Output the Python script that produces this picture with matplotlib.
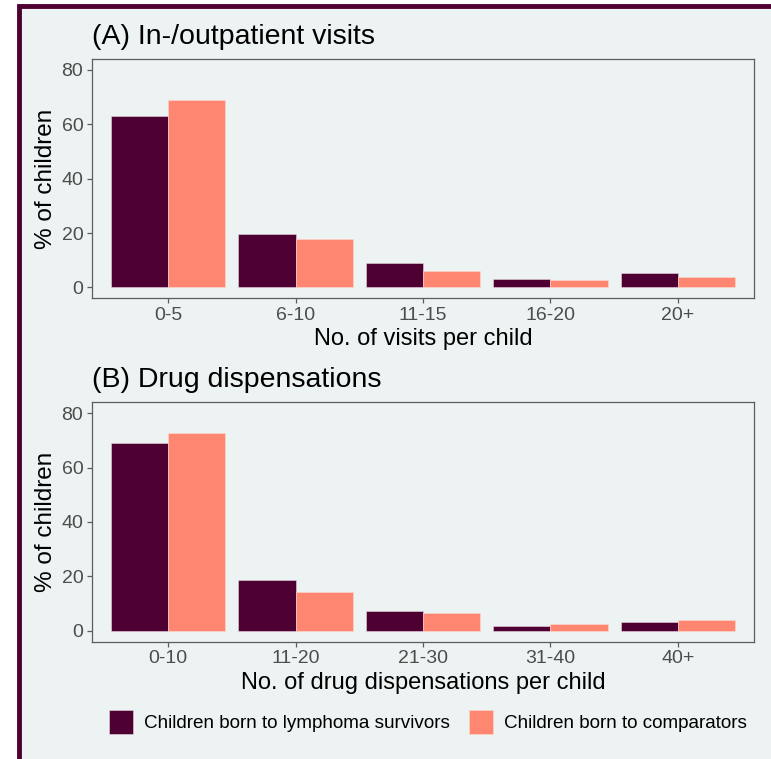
import matplotlib

matplotlib.use("Agg")
import matplotlib.pyplot as plt
import numpy as np
from matplotlib.patches import Patch, Rectangle

plt.rcParams["font.family"] = ["Liberation Sans", "DejaVu Sans"]

# panel A: in-/outpatient visits
visit_bins = ["0-5", "6-10", "11-15", "16-20", "20+"]
visit_survivors = [62.9, 19.6, 8.9, 3.1, 5.3]
visit_comparators = [69.1, 17.9, 5.9, 2.8, 3.7]

# panel B: drug dispensations
drug_bins = ["0-10", "11-20", "21-30", "31-40", "40+"]
drug_survivors = [68.9, 18.5, 7.2, 1.8, 3.4]
drug_comparators = [72.8, 14.4, 6.4, 2.5, 3.9]

y_ticks = [0, 20, 40, 60, 80]

SURV_COLOR = "#4F0032"
COMP_COLOR = "#FF8670"
BG_COLOR = "#ECF3F2"
FRAME_COLOR = "#5C5C5C"
TICK_TEXT = "#4D4D4D"

W, H = 771, 759


def draw_panel(ax, bins, surv, comp, title, xlabel):
    x = np.arange(len(bins))
    width = 0.45
    ax.bar(x - width / 2, surv, width, color=SURV_COLOR,
           edgecolor="#E8D8E0", linewidth=0.4)
    ax.bar(x + width / 2, comp, width, color=COMP_COLOR,
           edgecolor="#FFD8CF", linewidth=0.4)

    ax.set_facecolor(BG_COLOR)
    ax.set_xlim(-0.6, len(bins) - 0.4)
    ax.set_ylim(-4, 84)
    ax.set_xticks(x)
    ax.set_xticklabels(bins)
    ax.set_yticks(y_ticks)
    ax.tick_params(axis="both", length=3.5, width=0.9, color=FRAME_COLOR,
                   labelcolor=TICK_TEXT, labelsize=14, pad=2.5)
    for side in ("left", "bottom", "top", "right"):
        ax.spines[side].set_color(FRAME_COLOR)
        ax.spines[side].set_linewidth(0.9)

    ax.set_title(title, loc="left", fontsize=20.5, pad=11, color="black")
    ax.set_xlabel(xlabel, fontsize=17, labelpad=3.5, color="black")
    ax.set_ylabel("% of children", fontsize=17.5, labelpad=3, color="black")


fig = plt.figure(figsize=(W / 100, H / 100), dpi=100)
fig.patch.set_facecolor("white")

# dark framing rectangle (only top and left edges fall inside the image)
frame = Rectangle((18.5 / W, -0.2), 1.2, 1.2 - 5.5 / H, transform=fig.transFigure,
                  facecolor=BG_COLOR, edgecolor=SURV_COLOR, linewidth=3.5,
                  zorder=-10)
fig.patches.append(frame)

left = 91.7 / W
width = (754.3 - 91.7) / W
ax_a = fig.add_axes([left, 1 - 298.3 / H, width, (298.3 - 59) / H])
ax_b = fig.add_axes([left, 1 - 641.7 / H, width, (641.7 - 402.3) / H])

draw_panel(ax_a, visit_bins, visit_survivors, visit_comparators,
           "(A) In-/outpatient visits", "No. of visits per child")
draw_panel(ax_b, drug_bins, drug_survivors, drug_comparators,
           "(B) Drug dispensations", "No. of drug dispensations per child")

handles = [
    Patch(facecolor=SURV_COLOR, edgecolor="#E8D8E0", linewidth=0.4,
          label="Children born to lymphoma survivors"),
    Patch(facecolor=COMP_COLOR, edgecolor="#FFD8CF", linewidth=0.4,
          label="Children born to comparators"),
]
fig.legend(handles=handles, loc="center", bbox_to_anchor=(428 / W, 1 - 722 / H),
           ncol=2, frameon=False, fontsize=13.6, handlelength=1.25,
           handleheight=1.5, handletextpad=0.6, columnspacing=1.0)

fig.savefig("out.png", dpi=100, facecolor=fig.get_facecolor())
